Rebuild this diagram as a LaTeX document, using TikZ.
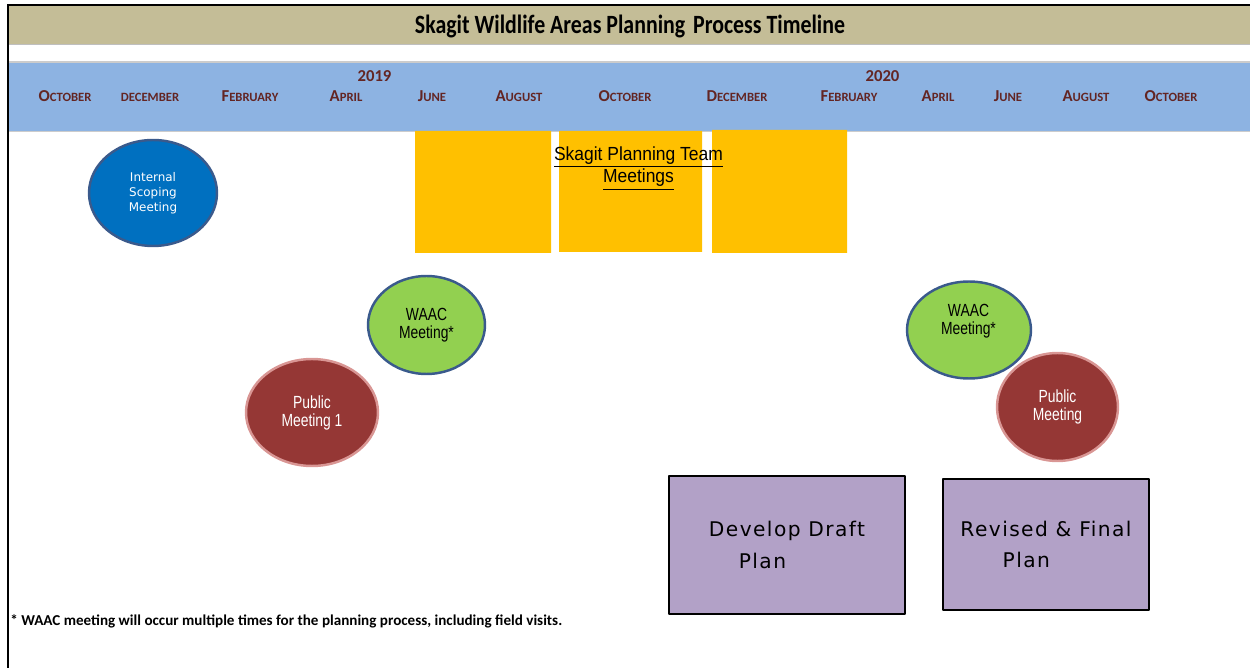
\documentclass[tikz,border=0pt]{standalone}
\usepackage{fontspec}
\setmainfont{Carlito}
\newfontfamily\titlefont[FakeStretch=0.83]{Carlito}
\newfontfamily\narrowfont[FakeStretch=0.79]{Liberation Sans}
\newfontfamily\teamfont[FakeStretch=0.92]{Liberation Sans}
\newfontfamily\verdfont{DejaVu Sans}
\newfontfamily\boxfont[LetterSpace=7]{DejaVu Sans}
\usetikzlibrary{shapes.geometric}
\definecolor{titletan}{HTML}{C4BD97}
\definecolor{bandblue}{HTML}{8DB3E2}
\definecolor{monthred}{HTML}{632523}
\definecolor{teamyellow}{HTML}{FFC000}
\definecolor{scopeblue}{HTML}{0070C0}
\definecolor{rimblue}{HTML}{3A5A8C}
\definecolor{waacgreen}{HTML}{92D050}
\definecolor{publicred}{HTML}{953735}
\definecolor{rimpink}{HTML}{D99694}
\definecolor{planlilac}{HTML}{B2A1C7}
\newcommand\mon[2]{{\fontsize{9.5}{10}\selectfont #1}{\fontsize{7.2}{8}\selectfont #2}}
\begin{document}
\begin{tikzpicture}[x=0.02cm,y=-0.02cm,line join=round,
 month/.style={anchor=base,inner sep=0,text=monthred,font=\bfseries},
 meet/.style={ellipse,inner sep=0,line width=1.4pt,align=center},
 waac/.style={meet,fill=waacgreen,draw=rimblue,font=\narrowfont\fontsize{10}{10.2}\selectfont},
 public/.style={meet,fill=publicred,draw=rimpink,text=white,font=\narrowfont\fontsize{10}{10.2}\selectfont},
 planbox/.style={rectangle,fill=planlilac,draw=black,line width=1.5pt,align=left,inner sep=0,
   font=\boxfont\fontsize{11.5}{18}\selectfont}]
 \useasboundingbox (0,0) rectangle (1250,668);
 % title and timeline band
 \fill[titletan] (8,6) rectangle (1250,44);
 \draw[black!25,line width=0.6pt] (8,44.5)--(1250,44.5);
 \draw[line width=1.1pt] (7,5)--(1250,5);
 \node[anchor=base,inner sep=0,font=\titlefont\bfseries\fontsize{15}{16}\selectfont] (title) at (630,34) {Skagit Wildlife Areas Planning\hspace{0.3em}Process Timeline};
 \fill[bandblue] (8,62) rectangle (1250,131);
 \draw[black!20,line width=0.8pt] (8,62)--(1250,62) (8,131.5)--(1250,131.5);
 \node[month,font=\bfseries\fontsize{9.5}{10}\selectfont] (y2019) at (374.5,82) {2019};
 \node[month,font=\bfseries\fontsize{9.5}{10}\selectfont] (y2020) at (882.5,82) {2020};
 \foreach \x/\a/\b in {65/O/CTOBER,150//DECEMBER,250/F/EBRUARY,346/A/PRIL,432/J/UNE,519/A/UGUST,625/O/CTOBER,
   737/D/ECEMBER,849/F/EBRUARY,938/A/PRIL,1008/J/UNE,1086/A/UGUST,1171/O/CTOBER}
  \node[month] (m\x) at (\x,102) {\mon{\a}{\b}};
 % planning team meetings
 \fill[teamyellow] (415,131) rectangle (551,253) (559,131) rectangle (702,252) (712,130) rectangle (847,253);
 \node[anchor=north,inner sep=0,align=center,font=\teamfont\fontsize{10.8}{13}\selectfont] (team) at (638.5,146)
   {\underline{Skagit Planning Team}\\\underline{Meetings}};
 % meetings
 \node[meet,fill=scopeblue,draw=rimblue,text=white,minimum width=2.56cm,minimum height=2.12cm,
   font=\verdfont\fontsize{6.8}{8.5}\selectfont] (scoping) at (153,193) {Internal\\Scoping\\Meeting};
 \node[waac,minimum width=2.34cm,minimum height=1.96cm] (waac1) at (426.5,325) {WAAC\\Meeting*};
 \node[public,minimum width=2.64cm,minimum height=2.14cm] (public1) at (312,412.5) {Public\\Meeting 1};
 \node[waac,minimum width=2.48cm,minimum height=1.94cm] (waac2) at (969,330) {};
 \node[inner sep=0,align=center,font=\narrowfont\fontsize{10}{10.2}\selectfont] (waac2txt) at (968.5,321) {WAAC\\Meeting*};
 \node[public,minimum width=2.42cm,minimum height=2.16cm] (public2) at (1057.5,407) {Public\\Meeting};
 % plans
 \node[planbox,minimum width=4.72cm,minimum height=2.76cm] (draft) at (787,545) {Develop Draft\\\hspace*{17pt}Plan};
 \node[planbox,minimum width=4.12cm,minimum height=2.62cm] (final) at (1046,544.5) {Revised \& Final\\\hspace*{24pt}Plan};
 \node[anchor=base west,inner sep=0,font=\bfseries\fontsize{8.6}{10}\selectfont] (note) at (10,625)
   {* WAAC meeting will occur multiple times for the planning process, including field visits.};
 \draw[line width=1.5pt] (8,5)--(8,668);
\end{tikzpicture}
\end{document}
